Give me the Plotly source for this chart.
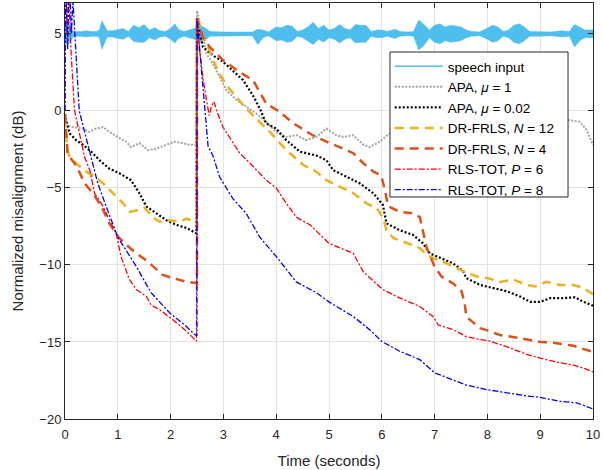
import plotly.graph_objects as go

# ---------------- data ----------------
speech_center = 5.0
speech_t = [0.0,0.05,0.1,0.15,0.2,0.3,0.4,0.5,0.6,0.65,0.7,0.75,0.8,0.9,1.0,1.1,1.2,1.3,1.4,1.5,1.6,1.7,1.8,1.9,2.0,2.08,2.15,2.25,2.35,2.45,2.55,2.65,2.75,2.9,3.0,3.2,3.4,3.55,3.65,3.75,3.85,4.0,4.1,4.2,4.3,4.4,4.5,4.6,4.7,4.8,4.9,5.0,5.1,5.2,5.3,5.4,5.5,5.6,5.7,5.8,5.9,6.0,6.1,6.25,6.35,6.5,6.6,6.7,6.8,6.9,7.0,7.1,7.2,7.3,7.4,7.5,7.6,7.7,7.85,8.0,8.1,8.2,8.3,8.4,8.5,8.6,8.7,8.8,9.0,9.2,9.4,9.55,9.65,9.75,9.85,10.0]
speech_up = [0.6,0.7,0.5,0.2,0.15,0.15,0.2,0.15,0.15,0.25,0.85,0.5,0.2,0.2,0.3,0.35,0.15,0.55,0.4,0.6,0.25,0.4,0.2,0.15,0.35,0.65,0.3,0.15,0.25,0.35,0.55,0.4,0.15,0.12,0.12,0.12,0.12,0.12,0.3,0.25,0.12,0.45,0.4,0.55,0.5,0.15,0.25,0.45,0.75,0.35,0.55,0.25,0.35,0.6,0.35,0.25,0.6,0.55,0.55,0.15,0.25,0.25,0.15,0.3,0.15,0.12,0.15,0.9,0.6,0.25,0.55,0.65,0.45,0.55,0.5,0.45,0.25,0.15,0.12,0.35,0.55,0.45,0.15,0.25,0.55,0.65,0.45,0.15,0.15,0.12,0.2,0.15,0.6,0.45,0.25,0.25]
speech_down = [0.6,0.7,0.5,0.2,0.15,0.15,0.2,0.15,0.15,0.25,1.0,0.6,0.2,0.2,0.3,0.35,0.15,0.5,0.55,0.55,0.25,0.4,0.2,0.15,0.35,0.6,0.3,0.15,0.25,0.35,0.55,0.4,0.15,0.12,0.12,0.12,0.12,0.12,0.7,0.25,0.12,0.45,0.4,0.55,0.5,0.15,0.25,0.45,0.7,0.35,0.55,0.25,0.35,0.6,0.35,0.25,0.6,0.55,0.55,0.15,0.25,0.25,0.15,0.3,0.15,0.12,0.15,1.05,0.75,0.25,0.55,0.65,0.45,0.55,0.5,0.45,0.25,0.15,0.12,0.35,0.55,0.45,0.15,0.25,0.55,0.65,0.45,0.15,0.15,0.12,0.2,0.15,0.85,0.45,0.25,0.25]

apa1_t = [0,0.02,0.15,0.34,0.46,0.59,0.72,0.84,1.0,1.16,1.25,1.41,1.57,1.73,1.92,2.08,2.23,2.36,2.49,2.5,2.68,2.8,2.93,3.06,3.25,3.43,3.62,3.81,4.0,4.19,4.38,4.57,4.76,4.95,5.14,5.27,5.46,5.65,5.77,5.96,6.15,6.4,6.8,7.2,7.6,8.0,8.4,8.8,9.2,9.56,9.75,9.88,10.0]
apa1_y = [-0.9,-0.93,-1.05,-1.15,-1.37,-1.15,-1.05,-1.37,-1.7,-2.0,-2.35,-2.1,-2.55,-2.45,-2.2,-2.0,-2.1,-2.2,-2.2,6.5,3.7,3.05,2.2,1.33,0.7,0.25,-0.17,-0.72,-1.37,-1.7,-1.58,-1.9,-1.7,-1.15,-1.58,-1.7,-1.58,-2.2,-2.35,-2.0,-1.47,-1.2,-1.4,-1.1,-1.3,-1.0,-1.2,-0.9,-0.8,-0.6,-0.72,-1.25,-2.2]

apa002_t = [0,0.01,0.09,0.21,0.34,0.5,0.65,0.84,1.03,1.25,1.41,1.54,1.73,1.92,2.11,2.3,2.49,2.5,2.61,2.8,2.99,3.18,3.37,3.56,3.69,3.81,4.0,4.19,4.45,4.76,4.95,5.08,5.33,5.58,5.84,6.02,6.09,6.34,6.59,6.78,6.91,7.1,7.35,7.54,7.6,7.86,8.0,8.36,8.62,8.81,9.0,9.19,9.44,9.66,9.82,10.0]
apa002_y = [-0.2,-0.5,-1.47,-1.9,-2.2,-2.65,-3.2,-3.75,-4.05,-4.5,-5.35,-6.2,-6.65,-7.1,-7.4,-7.6,-7.95,6.0,4.15,3.6,3.2,2.6,2.0,1.0,0.15,-0.82,-1.15,-1.9,-2.65,-2.9,-3.2,-3.85,-4.3,-4.7,-5.35,-6.1,-7.3,-7.75,-8.05,-8.6,-9.25,-9.55,-9.9,-10.4,-10.85,-11.3,-11.4,-11.7,-12.05,-12.4,-12.4,-12.15,-12.15,-12.1,-12.4,-12.65]

drf12_t = [0,0.04,0.09,0.24,0.4,0.53,0.72,0.91,1.1,1.22,1.38,1.51,1.66,1.79,1.98,2.17,2.3,2.49,2.5,2.58,2.71,2.8,2.93,3.06,3.25,3.43,3.62,3.88,4.07,4.26,4.51,4.76,4.95,5.2,5.46,5.71,5.9,6.02,6.09,6.22,6.47,6.72,6.85,6.97,7.23,7.54,7.8,8.0,8.24,8.49,8.74,8.9,9.12,9.37,9.63,9.82,10.0]
drf12_y = [-0.5,-2.5,-3.0,-3.5,-3.95,-4.2,-4.7,-5.35,-6.0,-6.55,-6.45,-6.3,-6.9,-7.2,-7.1,-7.2,-7.0,-7.2,6.2,5.0,4.15,3.3,2.4,1.65,0.9,0.15,-0.5,-1.37,-2.1,-2.75,-3.5,-3.95,-4.5,-4.9,-5.35,-6.0,-6.3,-6.9,-7.75,-8.25,-8.6,-8.9,-9.35,-9.55,-9.9,-10.4,-10.75,-10.85,-11.1,-10.95,-11.3,-11.4,-11.1,-11.3,-11.3,-11.5,-11.9]

drf4_t = [0,0.02,0.05,0.09,0.18,0.27,0.37,0.53,0.69,0.84,1.0,1.13,1.35,1.54,1.73,1.85,2.04,2.3,2.45,2.5,2.5,2.61,2.74,2.99,3.31,3.56,3.81,4.07,4.32,4.7,5.01,5.2,5.46,5.65,5.84,5.99,6.06,6.12,6.34,6.59,6.72,6.78,6.85,7.0,7.13,7.35,7.51,7.57,7.6,7.7,7.86,8.0,8.24,8.62,9.0,9.25,9.63,10.0]
drf4_y = [-0.2,-1.05,-2.8,-3.0,-3.4,-3.95,-4.7,-5.35,-6.2,-7.3,-8.15,-8.6,-9.25,-9.7,-10.3,-10.65,-10.85,-11.1,-11.15,-11.2,6.0,4.8,4.15,3.3,2.5,2.0,0.47,-0.07,-0.8,-1.6,-2.1,-2.35,-2.75,-3.4,-3.95,-4.2,-5.15,-6.2,-6.55,-6.65,-6.9,-7.75,-8.9,-10.1,-10.75,-11.2,-11.7,-12.5,-13.35,-13.65,-14.1,-14.25,-14.55,-14.75,-15.0,-15.05,-15.25,-15.65]

rls6_t = [0,0.01,0.04,0.07,0.12,0.18,0.37,0.47,0.56,0.72,0.84,0.97,1.06,1.22,1.35,1.54,1.63,1.79,2.04,2.3,2.49,2.5,2.55,2.61,2.68,2.73,2.77,2.82,2.87,2.99,3.15,3.31,3.56,3.81,4.0,4.19,4.38,4.64,4.82,5.0,5.46,5.65,6.02,6.28,6.72,6.97,7.07,7.35,7.6,7.86,8.0,8.36,8.74,9.0,9.37,9.63,9.82,10.0]
rls6_y = [0,10,5,7.5,3.5,0.04,-3.0,-3.85,-5.35,-6.2,-7.1,-7.95,-9.45,-10.95,-11.6,-12.05,-12.6,-12.9,-13.55,-14.3,-14.95,6.0,3.9,2.2,0.7,-0.3,0.25,0.6,0.04,-1.05,-1.9,-2.75,-3.6,-4.5,-5.0,-6.0,-6.9,-7.4,-8.0,-8.6,-9.25,-10.45,-11.6,-12.05,-12.7,-13.35,-13.9,-14.2,-14.65,-14.85,-14.9,-15.3,-15.8,-16.05,-16.35,-16.5,-16.7,-16.95]

rls8_t = [0,0.01,0.05,0.08,0.12,0.15,0.27,0.5,0.62,0.78,1.0,1.35,1.63,1.98,2.3,2.45,2.5,2.5,2.58,2.64,2.71,2.8,2.93,3.18,3.43,3.69,4.0,4.38,4.76,5.0,5.46,5.77,6.0,6.34,6.72,7.0,7.23,7.6,8.0,8.36,8.74,9.0,9.37,9.69,10.0]
rls8_y = [0,9,4,9,5,7.2,0.0,-3.2,-4.7,-6.2,-8.2,-10.1,-11.8,-13.1,-14.0,-14.5,-14.6,6.0,2.85,0.04,-2.3,-2.9,-4.3,-5.7,-6.65,-8.2,-9.45,-11.1,-11.8,-12.4,-13.35,-14.2,-14.97,-15.6,-16.15,-17.0,-17.3,-17.8,-18.1,-18.3,-18.5,-18.6,-18.85,-18.95,-19.35]

x_ticks = [0,1,2,3,4,5,6,7,8,9,10]
y_ticks = [-20,-15,-10,-5,0,5]

# ---------------- figure ----------------
fig = go.Figure()

env_x = speech_t + speech_t[::-1]
env_y = [speech_center + u for u in speech_up] + [speech_center - d for d in speech_down][::-1]
fig.add_trace(go.Scatter(x=env_x, y=env_y, mode="lines", fill="toself",
                         fillcolor="#4DBEEE", line=dict(color="#4DBEEE", width=0.5),
                         showlegend=False, hoverinfo="skip"))
fig.add_trace(go.Scatter(x=[None], y=[None], mode="lines", name="speech input",
                         line=dict(color="#4DBEEE", width=1.5)))

series = [
    (apa1_t, apa1_y, "APA, <i>μ</i> = 1", "#A3A3A3", 2.0, "2px,1.5px"),
    (apa002_t, apa002_y, "APA, <i>μ</i> = 0.02", "#000000", 2.2, "2px,2px"),
    (drf12_t, drf12_y, "DR-FRLS, <i>N</i> = 12", "#EDB120", 2.5, "9px,6px"),
    (drf4_t, drf4_y, "DR-FRLS, <i>N</i> = 4", "#D95319", 2.5, "9px,6px"),
    (rls6_t, rls6_y, "RLS-TOT, <i>P</i> = 6", "#FF0000", 1.3, "6px,2px,2px,2px"),
    (rls8_t, rls8_y, "RLS-TOT, <i>P</i> = 8", "#0000FF", 1.3, "6px,2px,2px,2px"),
]
for t, y, name, col, w, dash in series:
    fig.add_trace(go.Scatter(x=t, y=y, mode="lines", name=name,
                             line=dict(color=col, width=w, dash=dash)))

axis_common = dict(showgrid=True, gridcolor="#E3E3E3", gridwidth=1,
                   showline=True, linecolor="#262626", linewidth=1, mirror="ticks",
                   ticks="inside", ticklen=5, tickcolor="#262626",
                   tickfont=dict(family="Liberation Sans, Arial", size=13, color="#262626"),
                   zeroline=False, automargin=False)

# legend box drawn as a shape (opaque, above the curves)
fig.add_shape(type="rect", xref="paper", yref="paper",
              x0=0.6155, x1=0.9527, y0=0.5337, y1=0.8822,
              fillcolor="white", line=dict(color="#262626", width=1), layer="above")

fig.update_layout(
    width=602, height=470,
    margin=dict(l=65, r=9, t=3, b=51),
    paper_bgcolor="white", plot_bgcolor="white",
    font=dict(family="Liberation Sans, Arial", size=13, color="#262626"),
    xaxis=dict(range=[0, 10], tickvals=x_ticks, ticklabelstandoff=3,
               title=dict(text="Time (seconds)", font=dict(size=15), standoff=14),
               **axis_common),
    yaxis=dict(range=[-20, 7], tickvals=y_ticks,
               title=dict(text="Normalized misalignment (dB)", font=dict(size=15), standoff=12),
               **axis_common),
    legend=dict(x=0.615, y=0.8846, xanchor="left", yanchor="top",
                bgcolor="rgba(0,0,0,0)", borderwidth=0,
                font=dict(family="Liberation Sans, Arial", size=13.5, color="#000000"),
                itemwidth=48, tracegroupgap=0),
    showlegend=True,
)

fig.write_html("out.html", config={"displayModeBar": False},
               post_script="document.body.style.margin='0';document.body.style.padding='0';")
